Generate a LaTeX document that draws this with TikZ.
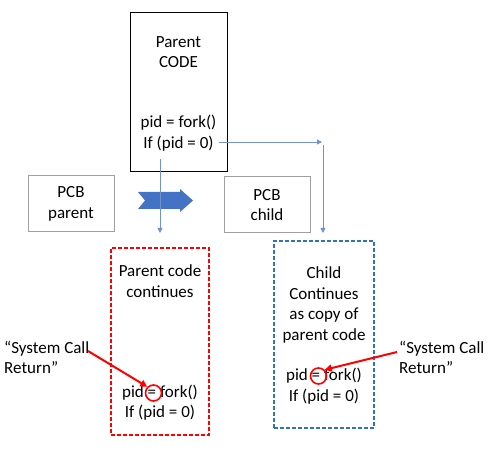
\documentclass[tikz,border=0pt]{standalone}
\usepackage{fontspec}
\setmainfont{Carlito}
\usetikzlibrary{arrows.meta}
\definecolor{conn}{RGB}{112,146,209}
\definecolor{bigarrow}{RGB}{68,114,196}
\definecolor{boxgray}{RGB}{160,160,160}
\definecolor{dblue}{RGB}{46,117,182}
\definecolor{dred}{RGB}{255,0,0}
\tikzset{
  txt/.style={font=\fontsize{17}{20.5}\selectfont, align=center, inner sep=0pt},
  pcb/.style={draw=boxgray, line width=1pt, minimum width=86pt, minimum height=56pt, txt},
  conn/.style={draw=conn, line width=0.9pt, -{Triangle[length=5pt,width=5pt]}},
  redarrow/.style={draw=dred, line width=2pt, -{Triangle[length=7pt,width=7pt]}},
  redring/.style={draw=dred, line width=1.6pt, circle, minimum size=16pt, inner sep=0pt},
  dashbox/.style={dash pattern=on 4pt off 2pt, line width=1.1pt, inner sep=0pt},
}
\begin{document}
\begin{tikzpicture}[x=1pt,y=-1pt]
\useasboundingbox (0,0) rectangle (493,465);
% parent code box
\node[draw=black, line width=0.9pt, minimum width=97pt, minimum height=159pt, inner sep=0pt] (pc) at (178.5,91.5) {};
\node[txt] (pctitle) at (178.5,52) {Parent\\CODE};
\node[txt] (pccode) at (178.5,133) {pid = fork()\\If (pid = 0)};
% PCBs
\node[pcb] (pcbp) at (71,204) {PCB\\parent};
\node[pcb] (pcbc) at (267,205) {PCB\\child};
% big blue arrow
\fill[bigarrow] (138,192) -- (180,192) -- (180,189) -- (193,200.5) -- (180,212) -- (180,209) -- (138,209) -- (145,200.5) -- cycle;
% dashed boxes
\node[dashbox, draw=dred, color=dred, minimum width=98pt, minimum height=187pt] (rbox) at (160,341.5) {};
\node[dashbox, draw=dblue, minimum width=100pt, minimum height=187pt] (bbox) at (324,334.5) {};
\node[txt] (rtitle) at (160,281) {Parent code\\continues};
\node[txt] (rcode) at (160,402.5) {pid = fork()\\If (pid = 0)};
\node[txt] (btitle) at (324,305) {Child\\Continues\\as copy of\\parent code};
\node[txt] (bcode) at (324,386) {pid = fork()\\If (pid = 0)};
% connectors
\coordinate (vstart) at (160,159);
\coordinate (vend) at (160,233);
\draw[conn] (vstart) -- (vend);
\coordinate (hstart) at (219,142);
\coordinate (hend) at (322,142);
\draw[conn] (hstart) -- (hend);
\coordinate (v2start) at (323,145);
\coordinate (v2end) at (323,233);
\draw[conn] (v2start) -- (v2end);
% red rings
\node[redring] (ring1) at (153.5,393) {};
\node[redring] (ring2) at (318.5,376) {};
% labels
\node[txt, align=left, anchor=north west] (lbl1) at (4,341) {“System Call\\Return”};
\node[txt, align=left, anchor=north west] (lbl2) at (399,341) {“System Call\\Return”};
\coordinate (a1s) at (88,351);
\draw[redarrow] (a1s) -- (ring1.north west);
\coordinate (a2s) at (397,352);
\draw[redarrow] (a2s) -- (ring2.north east);
\end{tikzpicture}
\end{document}
